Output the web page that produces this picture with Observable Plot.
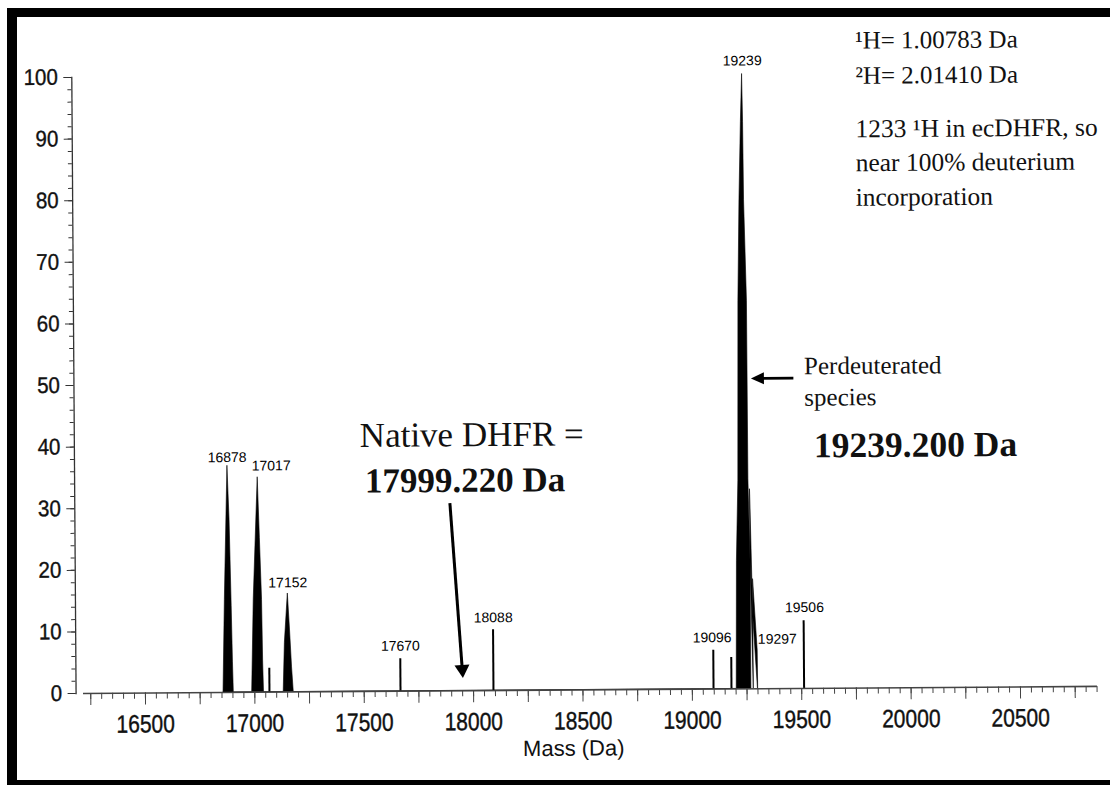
<!DOCTYPE html>
<html><head><meta charset="utf-8">
<script src="https://cdn.jsdelivr.net/npm/d3@7"></script>
<script src="https://cdn.jsdelivr.net/npm/@observablehq/plot@0.6"></script>
<style>
html,body{margin:0;padding:0;background:#fff;overflow:hidden;}
#wrap{position:relative;width:1110px;height:785px;overflow:hidden;background:#fff;}
#chart svg{transform:rotate(-0.4deg);transform-origin:555px 392px;}
#border{position:absolute;left:7px;top:8px;width:1200px;height:782px;box-sizing:border-box;border-left:10px solid #000;border-top:9px solid #000;border-bottom:10px solid #000;pointer-events:none;}
</style></head><body><div id="wrap"><div id="chart"></div><div id="border"></div></div>
<script>
// ---- spectrum profile (mass in Da, relative intensity %) ----
const profileMass = [16857, 16866, 16882, 16890, 16897, 16901, 16904,
  16988, 16998, 17020, 17028, 17036, 17039, 17042,
  17132, 17139, 17154, 17163, 17171, 17178,
  19203, 19208, 19217, 19223, 19231, 19240, 19247, 19250, 19252, 19262, 19263, 19270, 19270, 19281, 19281, 19300, 19301];
const profileIntensity = [0, 15, 36.8, 28, 14, 5, 0,
  0, 15, 34.9, 25, 15, 5, 0,
  0, 8, 16.0, 10, 4, 0,
  0, 20.8, 33.8, 63, 79.3, 92, 99.8, 92, 79.3, 63, 34, 20.8, 11.6, 11.6, 6.2, 6.2, 0];

// ---- narrow (stick) peaks ----
const stickMass = [17067, 17666, 18091, 19097, 19179, 19511];
const stickIntensity = [3.9, 5.3, 9.9, 6.3, 5.1, 11.0];

// ---- peak labels ----
const peakLabels = ["16878", "17017", "17152", "17670", "18088", "19096", "19239", "19297", "19506"];
const peakLabelMass = [16881, 17082, 17154, 17667, 18092, 19092, 19248, 19390, 19515];
const peakLabelIntensity = [37.4, 36.0, 17.0, 6.6, 11.1, 7.6, 101.2, 7.3, 12.4];

// ---- axes ----
const xDomain = [16183, 20852];
const baselineExtent = [16217, 20852];
const yDomain = [0, 100];
const xTickLabels = [16500, 17000, 17500, 18000, 18500, 19000, 19500, 20000, 20500];
const xMidTicks = d3.range(16250, 20851, 250);
const xMinorTicks = d3.range(16250, 20851, 50);
const yTickLabels = d3.range(0, 101, 10);
const yMinorTicks = d3.range(0, 101, 2);
const xLabel = "Mass (Da)";

// ---- annotations ----
const notesRegular = [
  {text: "¹H= 1.00783 Da", x: 19765, y: 103.8, size: 25},
  {text: "²H= 2.01410 Da", x: 19765, y: 98.1, size: 25},
  {text: "1233 ¹H in ecDHFR, so", x: 19764, y: 89.4, size: 25.5},
  {text: "near 100% deuterium", x: 19763, y: 83.9, size: 25.5},
  {text: "incorporation", x: 19762, y: 78.3, size: 25.5},
  {text: "Perdeuterated", x: 19521, y: 51.0, size: 25},
  {text: "species", x: 19521, y: 45.9, size: 25},
  {text: "Native DHFR =", x: 17488, y: 39.7, size: 35}
];
const notesBold = [
  {text: "19239.200 Da", x: 19564, y: 37.5, size: 35.5},
  {text: "17999.220 Da", x: 17510, y: 32.3, size: 35}
];
const arrows = [
  {x1: 17900, y1: 30.4, x2: 17954, y2: 2.0, width: 3, head: 13, headWidth: 15},
  {x1: 19474, y1: 50.3, x2: 19280, y2: 50.3, width: 2.6, head: 13, headWidth: 12}
];

const profile = profileMass.map((m, i) => ({m, v: profileIntensity[i]}));
const sticks = stickMass.map((m, i) => ({m, v: stickIntensity[i]}));
const labels = peakLabels.map((t, i) => ({t, m: peakLabelMass[i], v: peakLabelIntensity[i]}));

const sans = `"Liberation Sans",Arial,Helvetica,sans-serif`;
const serif = `"Liberation Serif","Times New Roman",serif`;

function arrowMark(index, scales) {
  const g = d3.create("svg:g");
  for (const a of arrows) {
    const x1 = scales.x(a.x1), y1 = scales.y(a.y1), x2 = scales.x(a.x2), y2 = scales.y(a.y2);
    const ang = Math.atan2(y2 - y1, x2 - x1), c = Math.cos(ang), s = Math.sin(ang);
    const bx = x2 - a.head * c, by = y2 - a.head * s, w = a.headWidth / 2;
    g.append("line").attr("x1", x1).attr("y1", y1).attr("x2", bx + c).attr("y2", by + s)
      .attr("stroke", "#000").attr("stroke-width", a.width);
    g.append("path").attr("d", `M${x2},${y2}L${bx - w * s},${by + w * c}L${bx + w * s},${by - w * c}Z`).attr("fill", "#000");
  }
  return g.node();
}

const plot = Plot.plot({
  width: 1110, height: 785,
  marginLeft: 73.5, marginRight: 15.1, marginTop: 73.6, marginBottom: 95.3,
  x: {domain: xDomain, axis: null},
  y: {domain: yDomain, axis: null},
  style: {background: "white", color: "#111", fontFamily: sans},
  marks: [
    Plot.areaY(profile, {x: "m", y: "v", fill: "#000", stroke: "#000", strokeWidth: 0.6, curve: "linear"}),
    Plot.ruleX(sticks, {x: "m", y1: 0, y2: "v", stroke: "#000", strokeWidth: 2}),
    Plot.ruleY([0], {x1: baselineExtent[0], x2: baselineExtent[1], stroke: "#444", strokeWidth: 1.6}),
    Plot.frame({anchor: "left", stroke: "#333", strokeWidth: 1.3}),
    Plot.axisY(yMinorTicks, {tickSize: 4, tickFormat: () => "", label: null, stroke: "#333"}),
    Plot.axisY(yTickLabels, {tickSize: 8, tickPadding: 6, fontSize: 20.5, label: null, stroke: "#333", tickFormat: "d", fill: "#111"}),
    Plot.axisX(xMinorTicks, {tickSize: 6, tickFormat: () => "", label: null, stroke: "#444"}),
    Plot.axisX(xMidTicks, {tickSize: 12, tickFormat: () => "", label: null, stroke: "#444"}),
    Plot.axisX(xTickLabels, {tickSize: 0, tickPadding: 21.5, fontSize: 21, label: null, tickFormat: "d", fill: "#111"}),
    Plot.text([xLabel], {x: 18456, y: -9.5, text: d => d, fontSize: 22, lineAnchor: "middle", fill: "#111", ariaLabel: "xlabel"}),
    Plot.text(labels, {x: "m", y: "v", text: "t", fontSize: 14, lineAnchor: "bottom", fill: "#000", ariaLabel: "peak-labels"}),
    Plot.text(notesRegular, {x: "x", y: "y", text: "text", fontSize: "size", fontFamily: serif, textAnchor: "start", lineAnchor: "bottom", fill: "#111"}),
    Plot.text(notesBold, {x: "x", y: "y", text: "text", fontSize: "size", fontWeight: "bold", fontFamily: serif, textAnchor: "start", lineAnchor: "bottom", fill: "#111"}),
    arrowMark
  ]
});

// scanned original has slightly tall, heavy sans-serif glyphs
function stretch(selector, k) {
  plot.querySelectorAll(selector).forEach(el => {
    let t = el.getAttribute("transform");
    if (!t) {
      const x = el.getAttribute("x") || 0, y = el.getAttribute("y") || 0;
      el.removeAttribute("x"); el.removeAttribute("y");
      t = `translate(${x},${y})`;
    }
    el.setAttribute("transform", `${t} scale(1,${k})`);
    el.style.stroke = "#111";
    el.style.strokeWidth = "0.35px";
  });
}
stretch('g[aria-label="x-axis tick label"] text', 1.2);
stretch('g[aria-label="y-axis tick label"] text', 1.1);
stretch('g[aria-label="peak-labels"] text', 1.1);
stretch('g[aria-label="xlabel"] text', 1.0);
document.getElementById("chart").appendChild(plot);
</script></body></html>
